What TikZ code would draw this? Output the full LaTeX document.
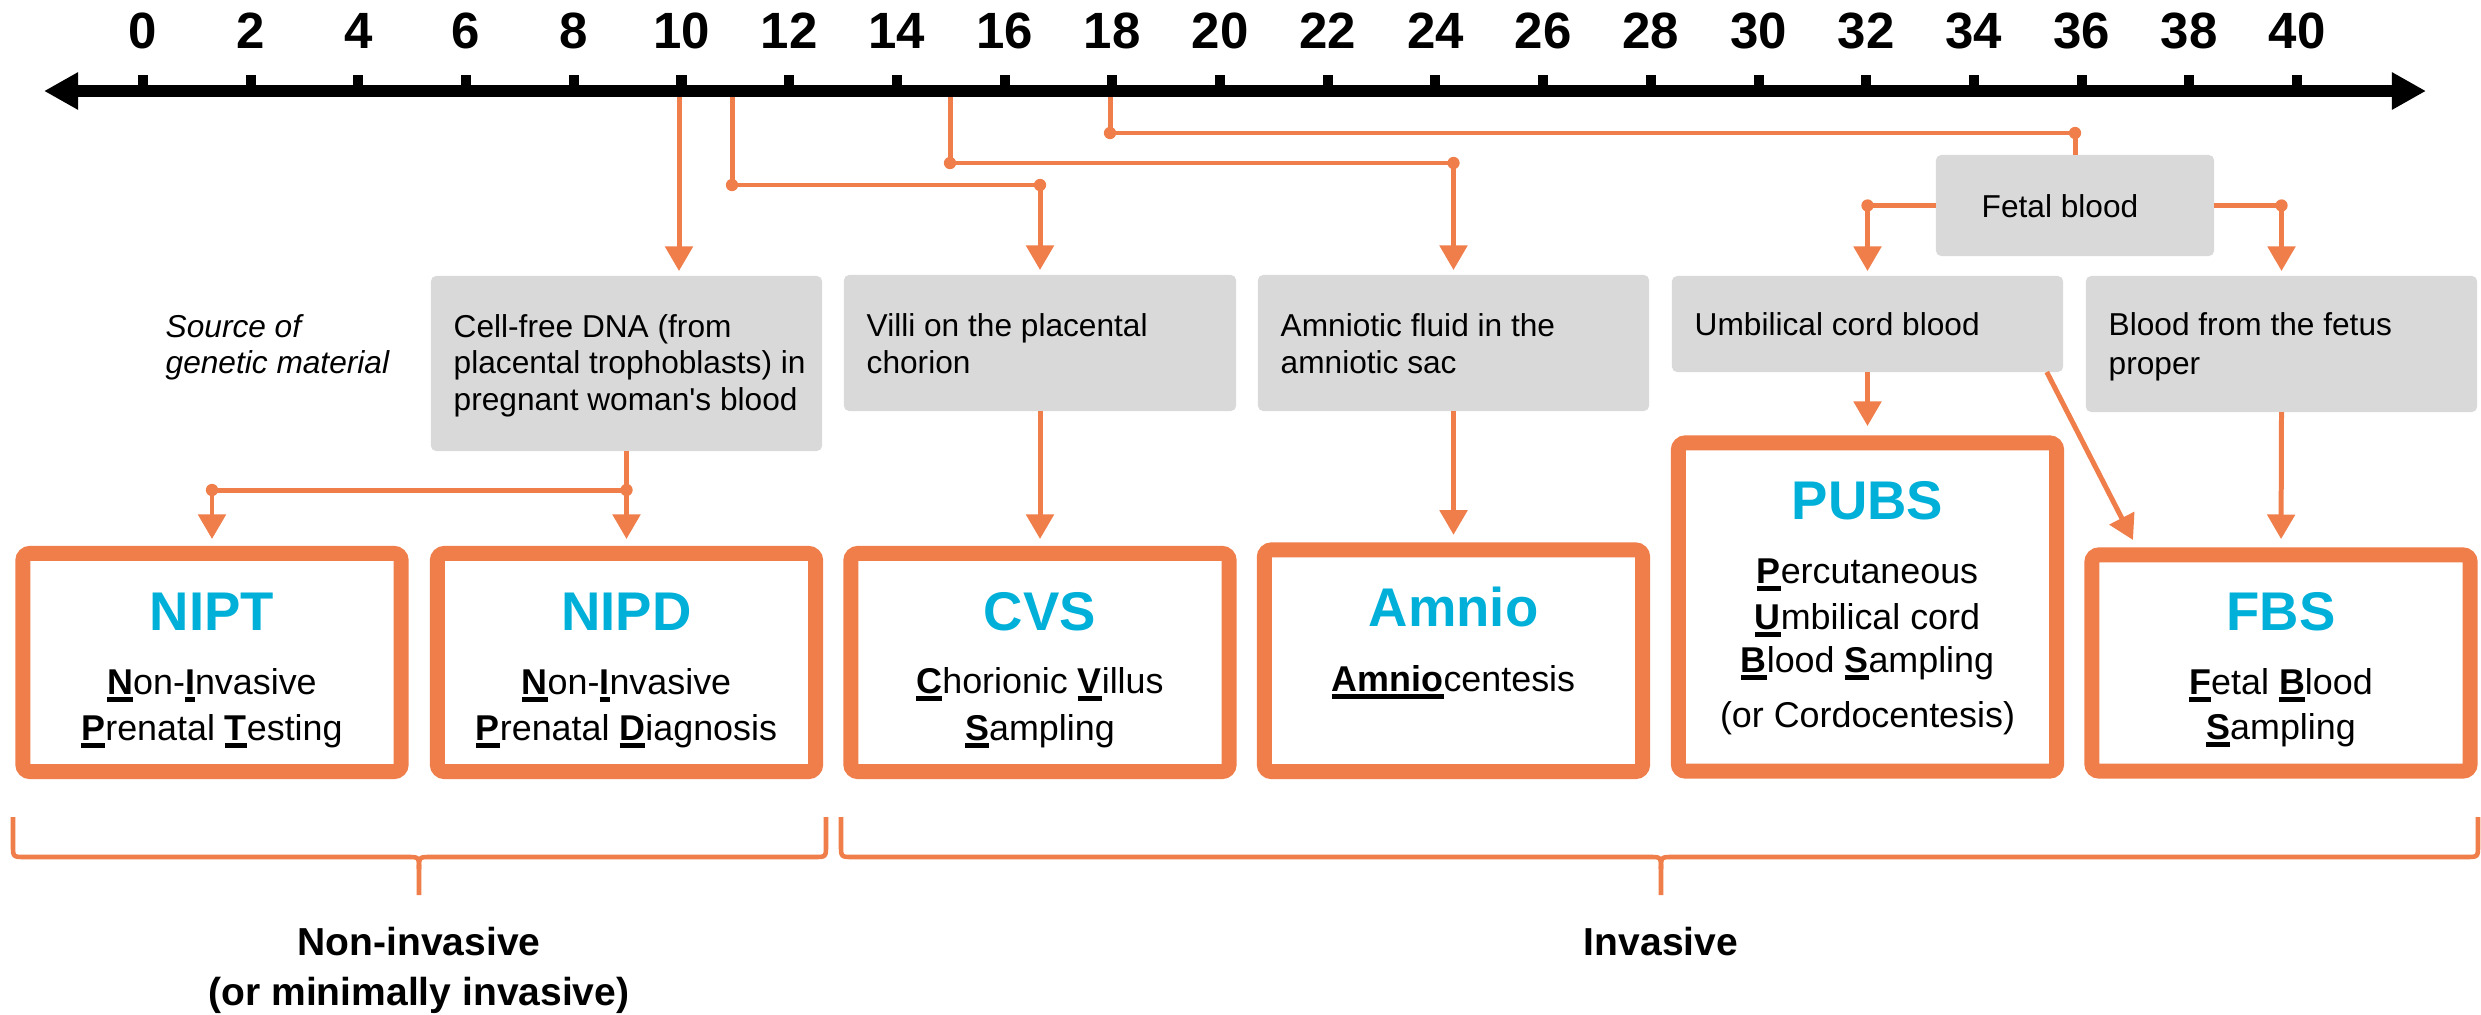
\documentclass[tikz,border=0pt]{standalone}
\usepackage{fontspec}
\setmainfont{Liberation Sans}[Ligatures=TeXOff]
\usetikzlibrary{arrows.meta}
\definecolor{org}{HTML}{EF7E4B}
\definecolor{cyn}{HTML}{00B0D8}
\definecolor{gry}{HTML}{D9D9D9}
\newsavebox{\ulsbox}
\newcommand{\ulb}[1]{\sbox{\ulsbox}{\textbf{#1}}\rlap{\rule[-2.15pt]{\wd\ulsbox}{1.3pt}}\usebox{\ulsbox}}
\newcommand{\fGray}{\fontsize{9}{10.8}\selectfont}
\newcommand{\fTitle}{\fontsize{15.5}{18}\selectfont\bfseries}
\newcommand{\fSub}{\fontsize{10.2}{12}\selectfont}
\newcommand{\fBot}{\fontsize{11.1}{13}\selectfont\bfseries}
\newcommand{\fTick}{\fontsize{14.5}{17}\selectfont\bfseries}
\begin{document}
\begin{tikzpicture}[x=0.01cm,y=-0.01cm,
  conn/.style={draw=org, line width=1.42pt},
  arr/.style={conn, -{Triangle[length=7pt,width=7.7pt]}},
  gbox/.style={fill=gry, rounded corners=1.5pt, inner sep=0pt, outer sep=0pt, draw=none},
  obox/.style={draw=org, line width=4.27pt, fill=white, rounded corners=2pt, inner sep=0pt, outer sep=0pt, minimum width=3.78cm},
  gtxt/.style={font=\fGray, anchor=base west, inner sep=0pt},
  ttl/.style={font=\fTitle, text=cyn, anchor=base, inner sep=0pt},
  sub/.style={font=\fSub, anchor=base, inner sep=0pt},
  btxt/.style={font=\fBot, anchor=base, inner sep=0pt},
  ticklab/.style={font=\fTick, anchor=base, inner sep=0pt},
  brc/.style={draw=org, line width=1.3pt},
  jdot/.style={fill=org}
]
\useasboundingbox (0,0) rectangle (2481,1015);

% ---- time axis ----
\coordinate (axL) at (44,91);
\coordinate (axR) at (2426,91);
\draw[line width=3.4pt, {Triangle[length=9.7pt,width=10pt]}-{Triangle[length=9.7pt,width=10pt]}] (axL) -- (axR);
\foreach \w in {0,2,...,40}{
  \draw[line width=2.85pt] ({143+53.85*\w},75) -- ({143+53.85*\w},91);
  \node[ticklab] (t\w) at ({143+53.85*\w},48) {\w};
}
\coordinate (w10) at (679,97);
\coordinate (w11) at (732,97);
\coordinate (w15) at (950,97);
\coordinate (w18) at (1110,97);

% ---- gray source boxes ----
\node[gbox, minimum width=3.91cm, minimum height=1.75cm] (cfd) at (626.5,363.5) {};
\node[gbox, minimum width=3.92cm, minimum height=1.36cm] (villi) at (1040,343) {};
\node[gbox, minimum width=3.91cm, minimum height=1.36cm] (amf) at (1453.5,343) {};
\node[gbox, minimum width=3.91cm, minimum height=0.96cm] (umb) at (1867.5,324) {};
\node[gbox, minimum width=3.91cm, minimum height=1.36cm] (bff) at (2281.5,344) {};
\node[gbox, minimum width=2.78cm, minimum height=1.01cm] (fb) at (2075,205.5) {};

\node[gtxt, font=\fGray\itshape] (src1) at (165,337) {Source of};
\node[gtxt, font=\fGray\itshape] (src2) at (165,373) {genetic material};
\node[gtxt] (cfd1) at (453,337) {Cell-free DNA (from};
\node[gtxt] (cfd2) at (453,373) {placental trophoblasts) in};
\node[gtxt] (cfd3) at (453,410) {pregnant woman's blood};
\node[gtxt] (vil1) at (866,336) {Villi on the placental};
\node[gtxt] (vil2) at (866,373) {chorion};
\node[gtxt] (amf1) at (1280,336) {Amniotic fluid in the};
\node[gtxt] (amf2) at (1280,373) {amniotic sac};
\node[gtxt] (umb1) at (1694,335) {Umbilical cord blood};
\node[gtxt] (bff1) at (2108,335) {Blood from the fetus};
\node[gtxt] (bff2) at (2108,374) {proper};
\node[gtxt] (fb1) at (1981,217) {Fetal blood};

% ---- orange test boxes ----
\node[obox, minimum height=2.18cm] (nipt) at (212,662.5) {};
\node[obox, minimum height=2.18cm] (nipd) at (626.5,662.5) {};
\node[obox, minimum height=2.18cm] (cvs) at (1040,662.5) {};
\node[obox, minimum height=2.215cm] (amnio) at (1453.5,660.75) {};
\node[obox, minimum height=3.28cm] (pubs) at (1867.5,607) {};
\node[obox, minimum height=2.16cm] (fbs) at (2281,663) {};

\node[ttl] (niptT) at (212,630) {NIPT};
\node[sub] (nipt1) at (212,694) {\ulb{N}on-\ulb{I}nvasive};
\node[sub] (nipt2) at (212,740) {\ulb{P}renatal \ulb{T}esting};
\node[ttl] (nipdT) at (626.5,630) {NIPD};
\node[sub] (nipd1) at (626.5,694) {\ulb{N}on-\ulb{I}nvasive};
\node[sub] (nipd2) at (626.5,740) {\ulb{P}renatal \ulb{D}iagnosis};
\node[ttl] (cvsT) at (1040,630) {CVS};
\node[sub] (cvs1) at (1040,693) {\ulb{C}horionic \ulb{V}illus};
\node[sub] (cvs2) at (1040,740) {\ulb{S}ampling};
\node[ttl] (amnioT) at (1453.5,626) {Amnio};
\node[sub] (amnio1) at (1453.5,691) {\ulb{Amnio}centesis};
\node[ttl] (pubsT) at (1867.5,519) {PUBS};
\node[sub] (pubs1) at (1867.5,583) {\ulb{P}ercutaneous};
\node[sub] (pubs2) at (1867.5,629) {\ulb{U}mbilical cord};
\node[sub] (pubs3) at (1867.5,672) {\ulb{B}lood \ulb{S}ampling};
\node[sub] (pubs4) at (1867.5,727) {(or Cordocentesis)};
\node[ttl] (fbsT) at (2281,630) {FBS};
\node[sub] (fbs1) at (2281,694) {\ulb{F}etal \ulb{B}lood};
\node[sub] (fbs2) at (2281,739) {\ulb{S}ampling};

% ---- connectors from the axis ----
\draw[arr, shorten >=1.4pt] (w10) -- (w10 |- cfd.north);
\coordinate (k11) at (1040,185);
\draw[arr, shorten >=1.4pt] (w11) |- (k11) -- (villi.north);
\fill[jdot] (w11 |- k11) circle[radius=1.75pt];
\fill[jdot] (k11) circle[radius=1.75pt];
\coordinate (k15) at (1453.5,163);
\draw[arr, shorten >=1.4pt] (w15) |- (k15) -- (amf.north);
\fill[jdot] (w15 |- k15) circle[radius=1.75pt];
\fill[jdot] (k15) circle[radius=1.75pt];
\coordinate (k18) at (2075,133);
\draw[conn] (w18) |- (k18) -- (fb.north);
\fill[jdot] (w18 |- k18) circle[radius=1.75pt];
\fill[jdot] (k18) circle[radius=1.75pt];

% ---- fetal blood split ----
\draw[arr, shorten >=1.4pt] (fb.west) -| (umb.north);
\fill[jdot] (fb.west -| umb.north) circle[radius=1.75pt];
\draw[arr, shorten >=1.4pt] (fb.east) -| (bff.north);
\fill[jdot] (fb.east -| bff.north) circle[radius=1.75pt];

% ---- source to test ----
\coordinate (jd) at (626.5,490);
\draw[conn] (cfd.south) -- (jd);
\draw[arr, shorten >=4.1pt] (jd) -- (nipd.north);
\draw[arr, shorten >=4.1pt] (jd) -| (nipt.north);
\fill[jdot] (jd) circle[radius=1.75pt];
\fill[jdot] (jd -| nipt.north) circle[radius=1.75pt];
\draw[arr, shorten >=4.1pt] (villi.south) -- (cvs.north);
\draw[arr, shorten >=4.3pt] (amf.south) -- (amnio.north);
\draw[arr, shorten >=4.8pt] (umb.south) -- (pubs.north);
\draw[arr, shorten >=4.5pt] (bff.south) -- (fbs.north);
\coordinate (dg) at (2133,540);
\draw[arr] (umb.-15.3) -- (dg);

% ---- braces ----
\draw[brc] (13,817) -- (13,845) .. controls (13,857) .. (25,857) -- (407,857) .. controls (419,857) .. (419,869) -- (419,895);
\draw[brc] (419,869) .. controls (419,857) .. (431,857) -- (814,857) .. controls (826,857) .. (826,845) -- (826,817);
\draw[brc] (841,817) -- (841,845) .. controls (841,857) .. (853,857) -- (1649,857) .. controls (1661,857) .. (1661,869) -- (1661,895);
\draw[brc] (1661,869) .. controls (1661,857) .. (1673,857) -- (2466,857) .. controls (2478,857) .. (2478,845) -- (2478,817);

\node[btxt] (ni1) at (419,955) {Non-invasive};
\node[btxt] (ni2) at (419,1005) {(or minimally invasive)};
\node[btxt] (inv) at (1661,955) {Invasive};
\end{tikzpicture}
\end{document}
